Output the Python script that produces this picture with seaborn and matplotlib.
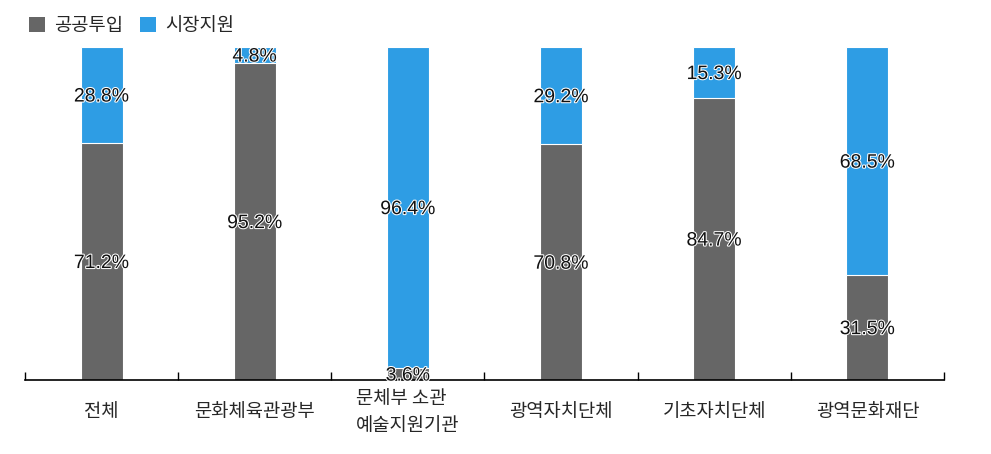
import matplotlib
matplotlib.use("Agg")
import matplotlib.pyplot as plt
import matplotlib.patheffects as pe
import seaborn as sns
import pandas as pd
from matplotlib.patches import Patch

categories = ["전체", "문화체육관광부", "문체부 소관\n예술지원기관", "광역자치단체", "기초자치단체", "광역문화재단"]
public_vals = [71.2, 95.2, 3.6, 70.8, 84.7, 31.5]
market_vals = [28.8, 4.8, 96.4, 29.2, 15.3, 68.5]
series_names = ["공공투입", "시장지원"]
colors = ["#666666", "#2E9DE4"]

sns.set_theme(style="white")
plt.rcParams['font.family'] = ['Noto Sans CJK KR', 'DejaVu Sans']

df = pd.DataFrame({"cat": categories, "public": public_vals, "market": market_vals})
df["total"] = df["public"] + df["market"]

fig = plt.figure(figsize=(9.91, 4.54), dpi=100)
ax = fig.add_axes([25/991, 74/454, (944-25)/991, (380-47)/454])

sns.barplot(data=df, x="cat", y="total", color=colors[1], width=0.275, ax=ax,
            edgecolor="white", linewidth=0.8, saturation=1)
sns.barplot(data=df, x="cat", y="public", color=colors[0], width=0.275, ax=ax,
            edgecolor="white", linewidth=0.8, saturation=1)

halo = [pe.withStroke(linewidth=1.5, foreground="white")]
for i, (p, m) in enumerate(zip(public_vals, market_vals)):
    for y, v in ((p / 2, p), (p + m / 2, m)):
        ax.annotate(f"{v:.1f}%", (i, y), xytext=(0, -1.5), textcoords="offset points",
                    ha="center", va="center", fontsize=14,
                    family=["Liberation Sans", "DejaVu Sans"], color="#111111", path_effects=halo)

ax.set_xlim(-0.5, len(categories) - 0.5)
ax.set_ylim(0, 100)
ax.set_xlabel("")
ax.set_ylabel("")
ax.set_yticks([])
for s in ["top", "right", "left"]:
    ax.spines[s].set_visible(False)
ax.spines["bottom"].set_color("black")
ax.spines["bottom"].set_linewidth(1.2)

ax.set_xticks(range(len(categories)))
ax.set_xticklabels(categories, fontsize=13.5, linespacing=1.35)
for lbl in ax.get_xticklabels():
    lbl.set_va("center")
    lbl.set_multialignment("left")
ax.tick_params(axis="x", which="major", length=0, pad=23)
ax.set_xticks([i - 0.5 for i in range(len(categories) + 1)], minor=True)
ax.tick_params(axis="x", which="minor", direction="in", length=6, width=1, color="black", bottom=True)

handles = [Patch(facecolor=c, edgecolor="none") for c in colors]
fig.legend(handles, series_names, loc="upper left", bbox_to_anchor=(0.016, 0.995), ncol=2,
           frameon=False, fontsize=13.5, handlelength=0.85, handleheight=0.85,
           handletextpad=0.5, columnspacing=0.9, borderaxespad=0.3)

fig.savefig("out.png", dpi=100)
